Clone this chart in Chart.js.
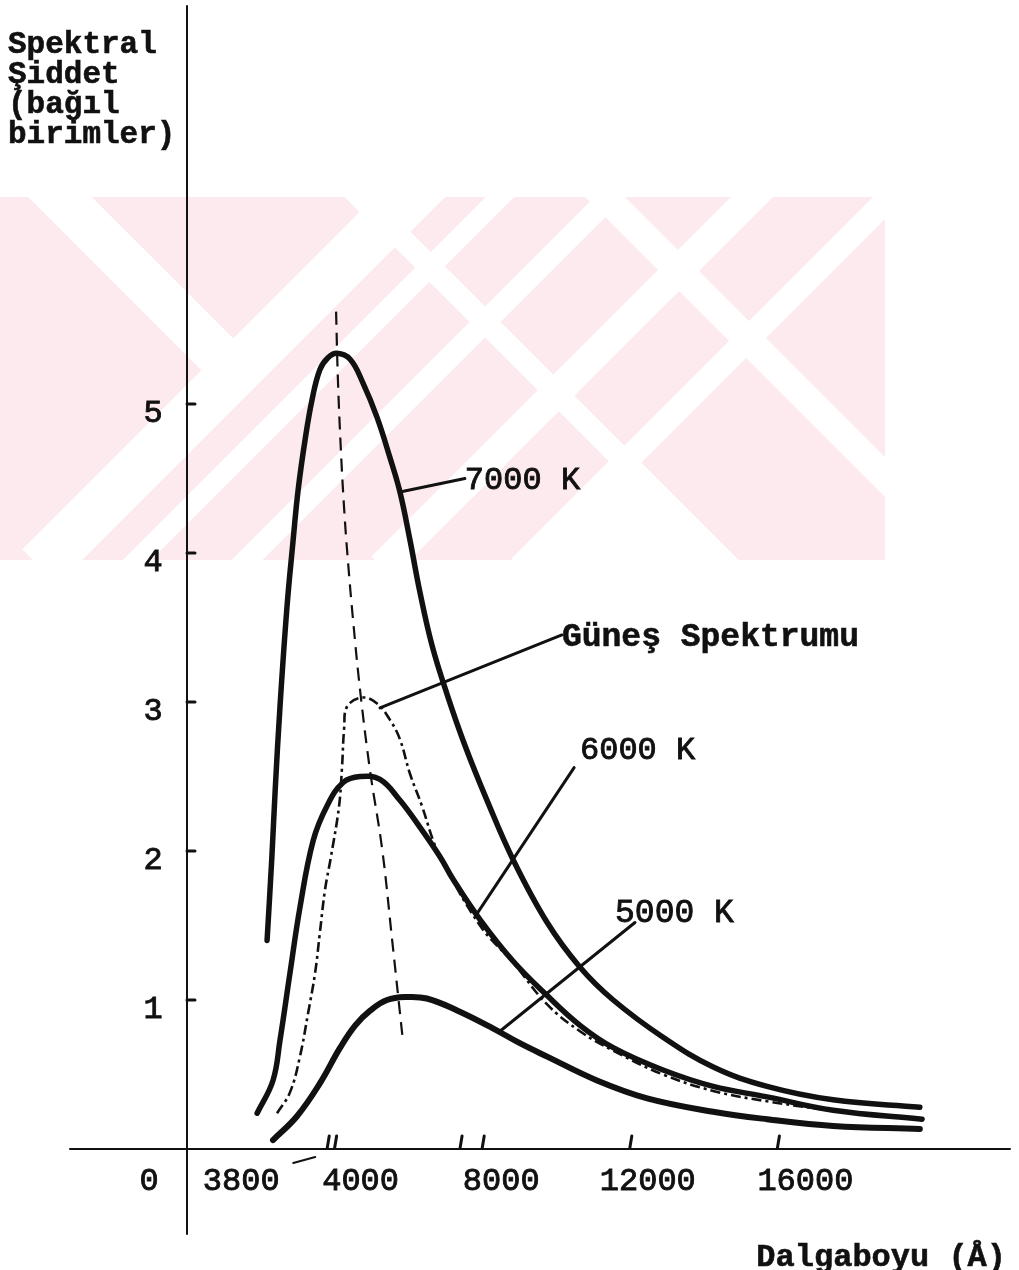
<!DOCTYPE html>
<html>
<head>
<meta charset="utf-8">
<script src="https://cdn.jsdelivr.net/npm/chart.js@4"></script>
<style>
html,body{margin:0;padding:0;background:#fff}
#wrap{width:1019px;height:1270px;position:relative}
</style>
</head>
<body>
<div id="wrap"><canvas id="c"></canvas></div>
<script>
// ---------- data (wavelength in Å, relative intensity) ----------
const lambda7000 = [2170,2300,2390,2520,2710,2870,3010,3200,3390,3600,3820,4060,4420,4770,5150,5500,5770,6040,6310,6640,7050,7530,8130,8840,9760,10650,11550,12900,14260,15720,17510,19860];
const value7000  = [1.40,1.96,2.41,2.97,3.64,4.07,4.42,4.76,5.03,5.23,5.31,5.34,5.30,5.14,4.91,4.64,4.41,4.09,3.74,3.38,3.05,2.71,2.34,1.94,1.52,1.22,1.00,0.75,0.55,0.42,0.33,0.28];

const lambda6000 = [1900,2330,2520,2790,3060,3420,3790,4230,4690,5230,5770,6310,6860,7210,7940,8840,9760,10650,11550,12900,14260,15720,17510,19920];
const value6000  = [0.24,0.46,0.73,1.18,1.62,2.07,2.30,2.46,2.50,2.48,2.34,2.16,1.96,1.81,1.54,1.26,1.03,0.83,0.68,0.53,0.42,0.35,0.26,0.20];

const lambda5000 = [2330,2980,3600,4150,4560,4970,5420,5960,6500,7320,8290,9020,9760,11110,12470,14260,15720,17510,19860];
const value5000  = [0.06,0.22,0.44,0.68,0.83,0.93,1.00,1.02,1.01,0.93,0.81,0.71,0.62,0.46,0.34,0.25,0.20,0.155,0.135];

const lambdaSun = [2440,2790,3060,3280,3470,3600,3740,3900,4120,4200,4260,4340,4740,5150,5500,5770,6040,6370,6670,6860,7940,8840,9760,10650,11550,12900,14260,15720,17970];
const valueSun  = [0.24,0.38,0.62,0.91,1.18,1.45,1.74,1.96,2.30,2.56,2.83,2.97,3.03,2.99,2.88,2.75,2.52,2.30,2.07,1.96,1.50,1.25,0.97,0.79,0.66,0.50,0.39,0.32,0.24];

const lambdaWien = [4040,4090,4170,4260,4360,4500,4690,4960,5290,5560,5850];
const valueWien  = [5.62,5.16,4.69,4.29,3.95,3.55,3.08,2.54,2.01,1.40,0.73];

const seriesNames = ['7000 K','6000 K','5000 K','Güneş Spektrumu'];

// ---------- axis text ----------
const yTickValues = [1,2,3,4,5];
const yTickLabels = ['1','2','3','4','5'];
const xTickValues = [3800,4000,7400,8000,12000,16000];
const xLabelValues = [0,3800,4000,8000,12000,16000];
const xLabelTexts  = ['0','3800','4000','8000','12000','16000'];
const yTitleLines = ['Spektral','Şiddet','(bağıl','birimler)'];
const xTitle = 'Dalgaboyu (Å)';

// ---------- helpers ----------
const pts = (xs, ys) => xs.map((x, i) => ({x: x, y: ys[i]}));
const INK = '#111';
const MONO = '"Liberation Mono", "DejaVu Sans Mono", monospace';

// label annotations (anchor point on curve -> text position, data units)
const notes = [
  {text: seriesNames[0], from: [5770, 4.41], to: [7530, 4.50], size: 32, bold: false},
  {text: seriesNames[3], from: [5230, 2.96], to: [10160, 3.45], size: 33, bold: true},
  {text: seriesNames[1], from: [7860, 1.58], to: [10490, 2.56], textAt: [10650, 2.69], size: 32, bold: false},
  {text: seriesNames[2], from: [8480, 0.79], to: [12140, 1.52], textAt: [11600, 1.60], size: 33, bold: false}
];

// pale watermark stripes (decoration of the scanned page)
const wmPlugin = {
  id: 'wm',
  beforeDraw(chart) {
    const ctx = chart.ctx;
    ctx.save();
    ctx.fillStyle = '#fff';
    ctx.fillRect(0, 0, chart.width, chart.height);
    ctx.beginPath();
    ctx.rect(0, 197, 885, 363);
    ctx.clip();
    ctx.fillStyle = '#fdeaee';
    ctx.fillRect(0, 197, 885, 363);
    ctx.strokeStyle = '#fff';
    ctx.lineCap = 'butt';
    const stripes = [
      [30, 167, 222, 359, 45],
      [440, 167, 40, 567, 50],
      [530, 167, 130, 567, 20],
      [640, 167, 233, 574, 22],
      [782, 167, 382, 567, 30],
      [920, 167, 520, 567, 24],
      [330, 167, 740, 577, 22],
      [575, 167, 985, 577, 28]
    ];
    stripes.forEach(s => {
      ctx.lineWidth = s[4];
      ctx.beginPath(); ctx.moveTo(s[0], s[1]); ctx.lineTo(s[2], s[3]); ctx.stroke();
    });
    ctx.fillStyle = '#fff';
    ctx.beginPath();
    ctx.moveTo(632, 468); ctx.lineTo(535, 565); ctx.lineTo(729, 565); ctx.closePath();
    ctx.fill();
    ctx.restore();
  }
};

const axesPlugin = {
  id: 'axesDraw',
  afterDatasetsDraw(chart) {
    const ctx = chart.ctx;
    const xs = chart.scales.x, ys = chart.scales.y;
    const X = v => xs.getPixelForValue(v);
    const Y = v => ys.getPixelForValue(v);
    const x0 = X(0), y0 = Y(0);
    ctx.save();
    ctx.strokeStyle = INK;
    ctx.fillStyle = INK;
    ctx.lineCap = 'round';
    // axis lines
    ctx.lineWidth = 2;
    ctx.beginPath();
    ctx.moveTo(x0, 6); ctx.lineTo(x0, 1234);
    ctx.moveTo(70, y0); ctx.lineTo(1010, y0);
    ctx.stroke();
    // y ticks
    ctx.lineWidth = 3;
    yTickValues.forEach(v => {
      ctx.beginPath(); ctx.moveTo(x0, Y(v)); ctx.lineTo(x0 + 8, Y(v)); ctx.stroke();
    });
    // x ticks
    xTickValues.forEach(v => {
      ctx.beginPath(); ctx.moveTo(X(v), y0 - 1); ctx.lineTo(X(v) + 2, y0 - 13); ctx.stroke();
    });
    // 3800 pointer
    ctx.lineWidth = 2;
    ctx.beginPath(); ctx.moveTo(X(3800) - 34, y0 + 14); ctx.lineTo(X(3800) - 12, y0 + 8); ctx.stroke();

    const txt = (s, x, y, align, bold, size) => {
      ctx.font = (bold ? 'bold ' : '') + (size || 32) + 'px ' + MONO;
      ctx.textAlign = align;
      ctx.textBaseline = 'alphabetic';
      ctx.lineWidth = bold ? 0.6 : 0.9;
      ctx.fillText(s, x, y);
      ctx.strokeText(s, x, y);
    };
    // y tick labels
    yTickLabels.forEach((s, i) => txt(s, x0 - 34, Y(yTickValues[i]) + 18, 'center', false, 32));
    // x tick labels
    const xOff = [-38, -86, 26, 19, 18, 28];
    xLabelTexts.forEach((s, i) => txt(s, X(xLabelValues[i]) + xOff[i], y0 + 41, 'center', false, 32));
    // titles
    yTitleLines.forEach((s, i) => txt(s, 8, 53 + i * 30, 'left', true, 31));
    txt(xTitle, 1006, 1266, 'right', true, 32);
    // annotations
    notes.forEach(n => {
      ctx.lineWidth = 3;
      ctx.beginPath();
      ctx.moveTo(X(n.from[0]), Y(n.from[1]));
      ctx.lineTo(X(n.to[0]), Y(n.to[1]));
      ctx.stroke();
      const at = n.textAt || n.to;
      txt(n.text, X(at[0]), Y(at[1]) + 11, 'left', n.bold, n.size);
    });
    ctx.restore();
  }
};

const curve = (label, xs, ys, w) => ({
  label: label, data: pts(xs, ys), borderColor: INK, borderWidth: w,
  pointRadius: 0, tension: 0.4, fill: false,
  borderCapStyle: 'round', borderJoinStyle: 'round'
});

new Chart(document.getElementById('c'), {
  type: 'line',
  data: {
    datasets: [
      Object.assign(curve('Wien', lambdaWien, valueWien, 2.2), {borderDash: [13, 8], borderCapStyle: 'butt'}),
      Object.assign(curve(seriesNames[3], lambdaSun, valueSun, 2.6), {borderDash: [10, 4, 3, 4], borderCapStyle: 'butt'}),
      curve(seriesNames[0], lambda7000, value7000, 5.5),
      curve(seriesNames[1], lambda6000, value6000, 5.5),
      curve(seriesNames[2], lambda5000, value5000, 6)
    ]
  },
  options: {
    responsive: true,
    maintainAspectRatio: false,
    animation: false,
    layout: {padding: 0},
    plugins: {legend: {display: false}, tooltip: {enabled: false}, title: {display: false}},
    scales: {
      x: {type: 'linear', display: false, min: -5068, max: 22547},
      y: {type: 'linear', display: false, min: -0.8121, max: 7.7114}
    }
  },
  plugins: [wmPlugin, axesPlugin]
});
</script>
</body>
</html>
